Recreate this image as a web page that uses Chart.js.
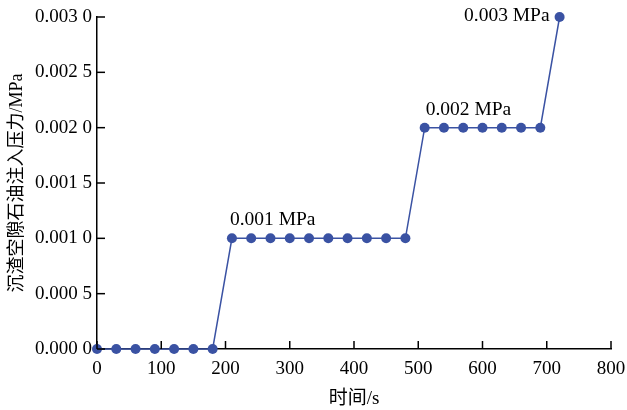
<!DOCTYPE html>
<html lang="zh">
<head>
  <meta charset="UTF-8">
  <script src="https://cdn.jsdelivr.net/npm/chart.js"></script>
  <title>注入压力</title>
  <style>
    body { margin: 0; background: #fff; }
    #wrap { width: 627px; height: 410px; }
  </style>
</head>
<body>
  <div id="wrap"><canvas id="grafico"></canvas></div>
<script>
  // tempo (s) e pressão (MPa)
  const tempos = [0, 30, 60, 90, 120, 150, 180,
    210, 240, 270, 300, 330, 360, 390, 420, 450, 480,
    510, 540, 570, 600, 630, 660, 690, 720];
  const pressoes = [0, 0, 0, 0, 0, 0, 0,
    0.001, 0.001, 0.001, 0.001, 0.001, 0.001, 0.001, 0.001, 0.001, 0.001,
    0.002, 0.002, 0.002, 0.002, 0.002, 0.002, 0.002, 0.003];
  // rótulos dos patamares: [tempo, pressão, texto]
  const rotulos = [
    [210, 0.001, '0.001 MPa'],
    [510, 0.002, '0.002 MPa'],
    [720, 0.003, '0.003 MPa']
  ];

  const fonte = "'Liberation Serif', 'Times New Roman', 'Noto Sans CJK SC', serif";
  const azul = '#3a52a3';

  const marcas = {
    id: 'marcas',
    afterDraw(chart) {
      const ctx = chart.ctx;
      const x = chart.scales.x, y = chart.scales.y;
      ctx.save();
      ctx.strokeStyle = '#000';
      ctx.lineWidth = 1.5;
      x.ticks.forEach(t => {
        const px = x.getPixelForValue(t.value);
        ctx.beginPath();
        ctx.moveTo(px, y.bottom);
        ctx.lineTo(px, y.bottom - 8);
        ctx.stroke();
      });
      y.ticks.forEach(t => {
        const py = y.getPixelForValue(t.value);
        ctx.beginPath();
        ctx.moveTo(x.left, py);
        ctx.lineTo(x.left + 8, py);
        ctx.stroke();
      });
      ctx.fillStyle = '#000';
      ctx.font = '19.5px ' + fonte;
      ctx.textBaseline = 'alphabetic';
      rotulos.forEach((r, i) => {
        const px = x.getPixelForValue(r[0]);
        const py = y.getPixelForValue(r[1]);
        if (i === rotulos.length - 1) {
          ctx.textAlign = 'right';
          ctx.fillText(r[2], px - 10, py + 4);
        } else {
          ctx.textAlign = 'left';
          ctx.fillText(r[2], px - 2 + i * 3, py - 13);
        }
      });
      ctx.restore();
    }
  };

  new Chart(document.getElementById('grafico'), {
    type: 'line',
    data: {
      datasets: [{
        data: tempos.map((t, i) => ({ x: t, y: pressoes[i] })),
        borderColor: azul,
        backgroundColor: azul,
        borderWidth: 1.5,
        pointRadius: 5,
        pointBorderWidth: 0,
        tension: 0,
        clip: false
      }]
    },
    options: {
      responsive: true,
      maintainAspectRatio: false,
      animation: false,
      layout: { padding: { left: 0, top: 17, right: 16, bottom: 0 } },
      plugins: { legend: { display: false }, tooltip: { enabled: false } },
      scales: {
        x: {
          type: 'linear',
          min: 0, max: 800,
          grid: { display: false, drawTicks: false },
          border: { display: true, color: '#000', width: 1.5 },
          ticks: { stepSize: 100, color: '#000', padding: 9, maxRotation: 0,
            font: { family: fonte, size: 19 } },
          title: { display: true, text: '时间/s', color: '#000', padding: 0,
            font: { family: fonte, size: 19 } },
          afterFit(s) { s.height = 61; s.paddingLeft = 0; s.paddingRight = 0; }
        },
        y: {
          min: 0, max: 0.003,
          grid: { display: false, drawTicks: false },
          border: { display: true, color: '#000', width: 1.5 },
          ticks: { stepSize: 0.0005, color: '#000', padding: 5,
            font: { family: fonte, size: 19 },
            callback: v => { const s = v.toFixed(4); return s.slice(0, -1) + ' ' + s.slice(-1); } },
          title: { display: true, text: '沉渣空隙石油注入压力/MPa', color: '#000',
            padding: { top: 6, bottom: 0 },
            font: { family: fonte, size: 18 } },
          afterFit(s) { s.width = 97; s.paddingTop = 0; s.paddingBottom = 0; }
        }
      }
    },
    plugins: [marcas]
  });
</script>
</body>
</html>
